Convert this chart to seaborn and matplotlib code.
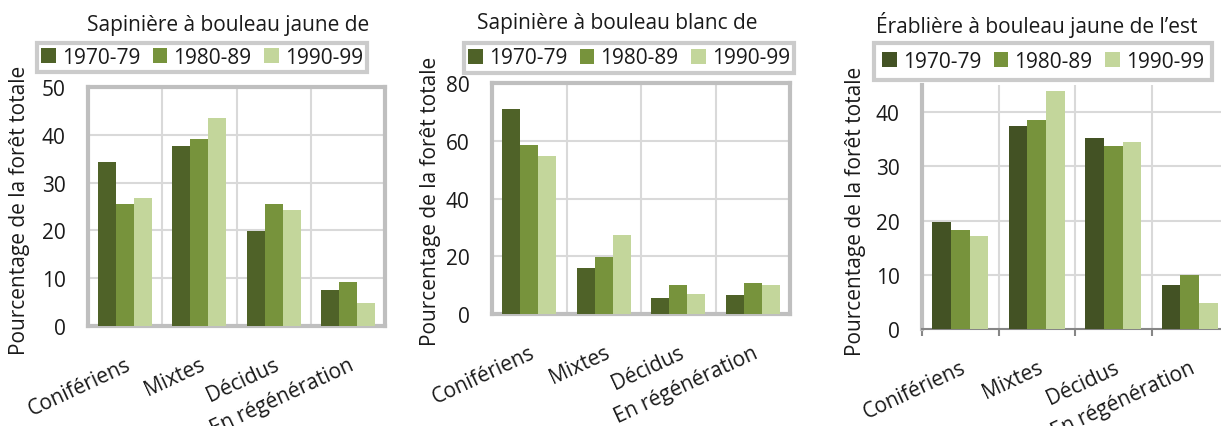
import numpy as np
import pandas as pd
import matplotlib
matplotlib.use("Agg")
import matplotlib.pyplot as plt
from matplotlib.patches import Patch
import seaborn as sns

# ---- data ----
categories = ["Conifériens", "Mixtes", "Décidus", "En régénération"]
periods = ["1970-79", "1980-89", "1990-99"]

titles = ["Sapinière à bouleau jaune de",
          "Sapinière à bouleau blanc de",
          "Érablière à bouleau jaune de l’est"]

p1_1970 = [34.4, 37.6, 19.8, 7.5]
p1_1980 = [25.5, 39.2, 25.5, 9.2]
p1_1990 = [26.7, 43.5, 24.3, 4.9]

p2_1970 = [71.0, 16.0, 5.6, 6.7]
p2_1980 = [58.6, 19.9, 9.9, 10.8]
p2_1990 = [54.7, 27.5, 7.0, 10.1]

p3_1970 = [19.7, 37.4, 35.2, 8.1]
p3_1980 = [18.3, 38.5, 33.7, 9.9]
p3_1990 = [17.2, 43.9, 34.4, 4.8]

ylabel = "Pourcentage de la forêt totale"
yticks1 = [0, 10, 20, 30, 40, 50]
yticks2 = [0, 20, 40, 60, 80]
yticks3 = [0, 10, 20, 30, 40]

def long_df(a, b, c):
    rows = []
    for per, vals in zip(periods, [a, b, c]):
        for cat, v in zip(categories, vals):
            rows.append({"cat": cat, "period": per, "val": v})
    return pd.DataFrame(rows)

dfs = [long_df(p1_1970, p1_1980, p1_1990),
       long_df(p2_1970, p2_1980, p2_1990),
       long_df(p3_1970, p3_1980, p3_1990)]

pal12 = ["#4f6228", "#77933c", "#c3d69b"]
pal3 = ["#435224", "#77933c", "#c3d69b"]

sns.set_theme(style="white")
plt.rcParams["font.family"] = ["Open Sans", "DejaVu Sans"]
FS = 15

W, H = 1221, 427
fig = plt.figure(figsize=(W / 100, H / 100), dpi=100)

def fx(px):
    return px / W

def fy(py):
    return 1 - py / H

# axes boxes in pixels: left, top, right, bottom
boxes = [(88, 88, 385, 327), (492, 84, 790, 315), (922, 86, 1228, 330)]
ylims = [(0, 50), (0, 80), (0, 45)]
ytks = [yticks1, yticks2, yticks3]
title_pos = [(228, 25), (617, 24), (1037, 25)]
leg_pos = [(202, 58.5), (629, 59), (1043, 62.5)]
leg_pad = [0.2, 0.2, 0.4]
label_pos = [20, 430, 855]
label_y = [210, 201, 211]

frame_col = "#bfbfbf"
grid_col = "#d9d9d9"

for i in range(3):
    l, t, r, b = boxes[i]
    ax = fig.add_axes([fx(l), fy(b), fx(r - l), (b - t) / H])
    pal = pal3 if i == 2 else pal12
    sns.barplot(data=dfs[i], x="cat", y="val", hue="period", palette=pal,
                width=0.73, ax=ax, legend=False, saturation=1, edgecolor="none",
                zorder=3)
    ax.set_ylim(*ylims[i])
    ax.set_xlim(-0.5, 3.5)
    ax.set_yticks(ytks[i])
    ax.set_yticklabels([str(v) for v in ytks[i]], fontsize=FS, color="#1a1a1a")
    ax.tick_params(axis="y", length=0, pad=16)
    ax.set_xlabel("")
    ax.set_ylabel("")
    # grid
    for v in ytks[i][1:]:
        ax.axhline(v, color=grid_col, lw=1.5, zorder=1)
    for xb in [0.5, 1.5, 2.5]:
        ax.axvline(xb, color=grid_col, lw=1.5, zorder=1)
    ax.set_xticks(range(4))
    ax.set_xticklabels(categories, rotation=25, ha="right",
                       rotation_mode="anchor", fontsize=FS, color="#1a1a1a")
    if i < 2:
        for s in ax.spines.values():
            s.set_visible(True)
            s.set_color(frame_col)
            s.set_linewidth(3)
        ax.tick_params(axis="x", length=0, pad=20)
    else:
        ax.spines["top"].set_visible(False)
        ax.spines["right"].set_visible(False)
        ax.spines["left"].set_color(frame_col)
        ax.spines["left"].set_linewidth(3)
        ax.spines["bottom"].set_color("#868686")
        ax.spines["bottom"].set_linewidth(1.5)
        ax.set_xticks([-0.5, 0.5, 1.5, 2.5, 3.5], minor=True)
        ax.tick_params(axis="x", which="minor", length=5, width=1.5,
                       color="#868686", direction="out", bottom=True)
        ax.tick_params(axis="x", which="major", length=0, pad=20)
    ax.set_facecolor("white")

    fig.text(fx(title_pos[i][0]), fy(title_pos[i][1]), titles[i],
             ha="center", va="center", fontsize=FS, color="#1a1a1a")
    fig.text(fx(label_pos[i]), fy(label_y[i]), ylabel, rotation=90,
             ha="center", va="center", fontsize=FS, color="#1a1a1a")

    handles = [Patch(facecolor=c, edgecolor="none") for c in pal]
    leg = fig.legend(handles, periods, loc="center",
                     bbox_to_anchor=(fx(leg_pos[i][0]), fy(leg_pos[i][1])),
                     ncol=3, fontsize=FS, frameon=True, fancybox=False,
                     handlelength=0.7, handleheight=0.7, handletextpad=0.3,
                     columnspacing=0.6, borderpad=leg_pad[i], borderaxespad=0)
    leg.get_frame().set_edgecolor(frame_col)
    leg.get_frame().set_linewidth(3)
    for txt in leg.get_texts():
        txt.set_color("#1a1a1a")

fig.savefig("out.png", dpi=100)
